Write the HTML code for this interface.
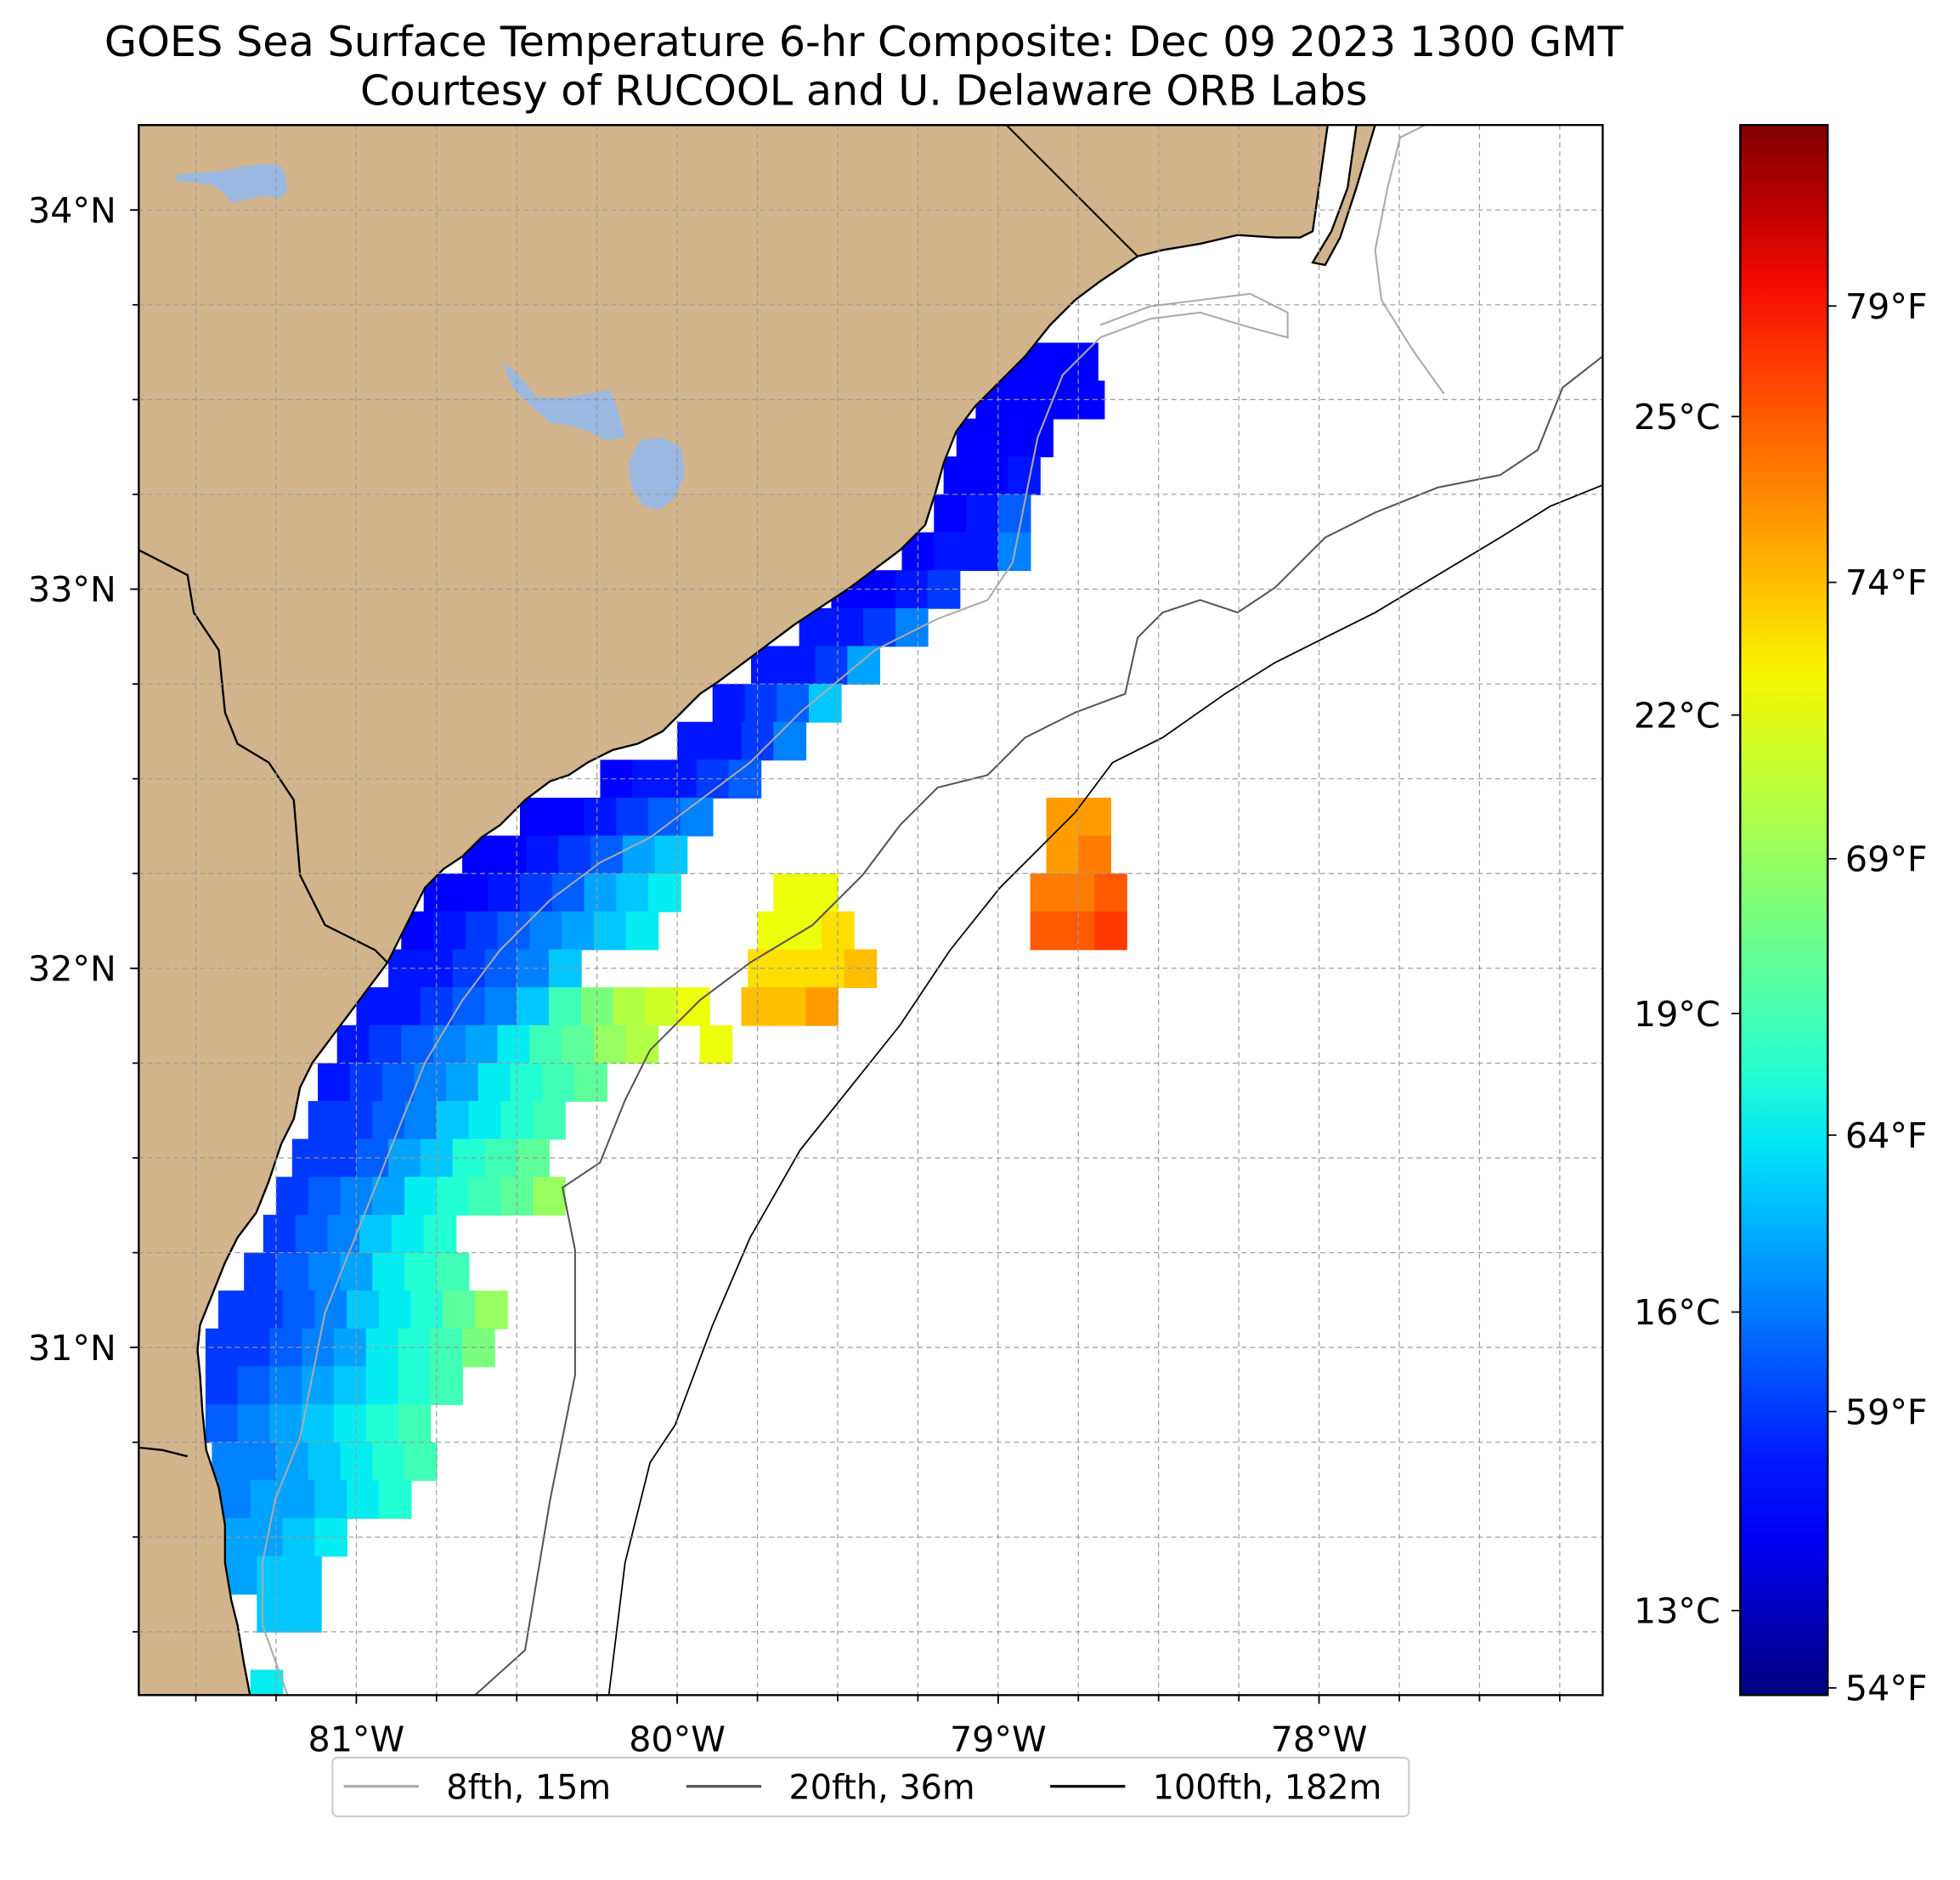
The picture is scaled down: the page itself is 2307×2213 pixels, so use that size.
<!DOCTYPE html>
<html><head><meta charset="utf-8"><style>
html,body{margin:0;padding:0;background:#fff;}
svg{display:block;font-family:"DejaVu Sans","Liberation Sans",sans-serif;}
</style></head><body>
<svg id="fig" width="2307" height="2213" viewBox="0 0 1567.8 1503.9" preserveAspectRatio="none" xmlns="http://www.w3.org/2000/svg">
<rect x="0" y="0" width="1567.8" height="1503.9" fill="#fff"/>
<text x="691" y="45" font-size="33.5" text-anchor="middle">GOES Sea Surface Temperature 6-hr Composite: Dec 09 2023 1300 GMT</text>
<text x="691" y="84" font-size="33.5" text-anchor="middle">Courtesy of RUCOOL and U. Delaware ORB Labs</text>
<defs>
<clipPath id="mapclip"><rect x="111" y="100" width="1171" height="1256"/></clipPath>
<linearGradient id="jetgrad" x1="0" y1="1" x2="0" y2="0"></linearGradient>
</defs>
<g id="map" clip-path="url(#mapclip)">
<rect x="111" y="100" width="1171" height="1256" fill="#fff"/>
<g id="sst"></g>
<polygon fill="#d2b48c" stroke="#000" stroke-width="1.6" points="1062,100 1055,150 1050,185 1040,190 1020,190 990,188 960,195 930,200 910,205 880,225 860,240 840,260 820,285 800,305 780,325 765,345 755,370 748,395 740,420 720,440 700,455 680,470 665,480 650,490 635,500 615,515 595,530 575,545 560,555 545,570 530,585 510,595 490,600 470,610 455,620 440,625 420,640 400,660 385,670 370,685 355,695 340,710 330,730 320,750 310,770 295,790 280,810 265,830 250,850 240,870 235,895 225,915 215,945 205,970 190,990 180,1010 170,1035 160,1060 158,1080 160,1100 162,1130 165,1160 175,1190 180,1220 180,1250 185,1280 190,1300 195,1330 200,1356 105,1356 105,100"/>
<polygon fill="#d2b48c" stroke="#000" stroke-width="1.6" points="1085,100 1100,100 1085,150 1072,190 1060,212 1050,210 1065,185 1078,150"/>
<polygon fill="#9ab8e0" points="140,140 160,138 175,137 185,135 195,133 205,132 215,131 225,133 228,140 230,152 225,158 210,157 195,160 185,162 180,155 170,148 155,146 142,145"/>
<polygon fill="#9ab8e0" points="402,290 415,300 430,318 450,318 470,315 488,312 495,330 500,350 485,352 470,345 455,340 440,338 425,325 410,310"/>
<polygon fill="#9ab8e0" points="512,352 530,350 545,358 548,380 540,398 528,408 515,405 505,390 503,370"/>
<polyline fill="none" stroke="#000" stroke-width="1.6" points="111,440 150,460 155,490 175,520 180,570 190,595 215,610 235,640 240,700 260,740 280,750 300,760 310,770"/>
<polyline fill="none" stroke="#000" stroke-width="1.6" points="111,1158 130,1160 150,1165"/>
<polyline fill="none" stroke="#000" stroke-width="1.4" points="805,100 910,205"/>
<polyline fill="none" stroke="#aaa" stroke-width="1.4" points="880,260 920,245 960,240 1000,235 1030,250 1030,270 1000,262 960,250 920,255 880,270 850,300 830,350 820,400 810,450 790,480 750,495 700,520 640,570 600,610 560,640 520,670 480,690 440,720 400,760 370,800 340,850 320,900 300,950 280,1000 260,1050 250,1100 240,1150 220,1200 210,1250 210,1300 230,1356"/>
<polyline fill="none" stroke="#aaa" stroke-width="1.4" points="1140,100 1120,110 1110,150 1100,200 1105,240 1130,280 1155,315"/>
<polyline fill="none" stroke="#555" stroke-width="1.4" points="380,1356 420,1320 430,1260 440,1200 460,1100 460,1000 450,950 480,930 500,880 520,840 560,800 600,770 650,740 690,700 720,660 750,630 790,620 820,590 860,570 900,555 910,510 930,490 960,480 990,490 1020,470 1060,430 1100,410 1150,390 1200,380 1230,360 1250,310 1282,285"/>
<polyline fill="none" stroke="#000" stroke-width="1.2" points="487,1356 500,1250 520,1170 540,1140 570,1060 600,990 640,920 680,870 720,820 760,760 800,710 860,650 890,610 930,590 980,555 1020,530 1060,510 1100,490 1150,460 1200,430 1240,405 1282,388"/>
<g id="grid"></g>
</g>
<rect x="111" y="100" width="1171" height="1256" fill="none" stroke="#000" stroke-width="1.6"/>
<g id="axes"></g>
<rect id="cbar" x="1392" y="100" width="70" height="1256" fill="url(#jetgrad)" stroke="#000" stroke-width="1.6"/>
<g id="cbaxes"></g>
<g>
<rect x="266" y="1406" width="861" height="47" rx="4" fill="#fff" stroke="#ccc" stroke-width="1.4"/>
<line x1="275" y1="1429" x2="335" y2="1429" stroke="#aaa" stroke-width="2.2"/>
<text x="357" y="1439" font-size="27">8fth, 15m</text>
<line x1="549" y1="1429" x2="609" y2="1429" stroke="#555" stroke-width="2.2"/>
<text x="631" y="1439" font-size="27">20fth, 36m</text>
<line x1="840" y1="1429" x2="900" y2="1429" stroke="#000" stroke-width="2.2"/>
<text x="922" y="1439" font-size="27">100fth, 182m</text>
</g>
</svg>
<script>
// ---- data ----
const lonTicks = [81, 80, 79, 78];
const lonTickLabels = ["81°W", "80°W", "79°W", "78°W"];
const latTicks = [34, 33, 32, 31];
const latTickLabels = ["34°N", "33°N", "32°N", "31°N"];
const cTicks = [13, 16, 19, 22, 25];
const cTickLabels = ["13°C", "16°C", "19°C", "22°C", "25°C"];
const fTicks = [54, 59, 64, 69, 74, 79];
const fTickLabels = ["54°F", "59°F", "64°F", "69°F", "74°F", "79°F"];
const cbarMinC = 12.15;
const cbarMaxC = 27.93;
// SST rows: latitude center, western edge (deg W), temps (°F) in 0.1° lon steps eastward
const sstLats = [33.6,33.5,33.4,33.3,33.2,33.1,33.0,32.9,32.8,32.7,32.6,32.5,32.4,32.3,32.2,32.1,32.0,31.9,31.8,31.7,31.6,31.5,31.4,31.3,31.2,31.1,31.0,30.9,30.8,30.7,30.6,30.5,30.4,30.3,30.1,
  32.2,32.1,32.0,31.9,31.8, 32.4,32.3,32.2,32.1];
const sstWest = [78.99,79.07,79.13,79.17,79.2,79.3,79.52,79.62,79.77,79.89,80.0,80.24,80.49,80.67,80.79,80.86,80.9,81.0,81.06,81.12,81.15,81.2,81.25,81.29,81.35,81.43,81.47,81.47,81.47,81.45,81.43,81.43,81.41,81.31,81.33,
  79.7,79.75,79.78,79.8,79.93, 78.85,78.85,78.9,78.9];
const sstTemps = [
 [57,57,57],[57,57,57,57],[57,57,57],[57,57,58],[57,58,60],[57,58,58,61],[57,57,58,59],[58,58,59,61],[58,58,59,62],[58,59,60,63],[58,58,59,61],
 [57,58,58,59,60],[57,57,58,59,60,61],[57,57,58,59,60,62,63],[57,57,58,59,60,62,63,64],[57,58,59,60,61,62,63,64],[58,58,59,60,61,63],
 [58,58,59,60,61,63,66,68,70,71,72],[58,59,60,61,62,64,66,67,69,70],[58,59,60,61,62,64,65,66,67],[59,59,60,61,63,64,65,66],[59,59,60,62,63,65,66,67],
 [59,60,61,62,64,65,66,67,69],[59,60,61,63,64,65],[59,60,61,62,64,65,66],[59,59,60,61,63,64,65,67,69],[59,59,60,61,62,64,65,66,68],
 [59,60,61,62,63,64,65,66],[60,61,62,63,64,65,66],[61,61,62,63,64,65,66],[61,62,62,63,64,65],[62,62,63,64],[62,63,63],[63,63],[64],
 [72,72],[72,72,73],[73,73,73,74],[74,74,75],[72],
 [75,75],[75,76],[76,76,77],[77,77,78]
];
// ---- axis functions ----
function xLon(w){ return 285 + (81 - w) * 256.7; }
function yLat(l){ return 168 + (34 - l) * 303.3; }
function yC(c){ return 1356 - (c - cbarMinC) / (cbarMaxC - cbarMinC) * 1256; }
function fToC(f){ return (f - 32) * 5 / 9; }
function seg(p, t){ for(let i=1;i<p.length;i++){ if(t<=p[i][0]){ const a=p[i-1],b=p[i]; return a[1]+(b[1]-a[1])*(t-a[0])/(b[0]-a[0]); } } return p[p.length-1][1]; }
function jet(t){ t=Math.max(0,Math.min(1,t));
  const r=seg([[0,0],[0.35,0],[0.66,1],[0.89,1],[1,0.5]],t);
  const g=seg([[0,0],[0.125,0],[0.375,1],[0.64,1],[0.91,0],[1,0]],t);
  const b=seg([[0,0.5],[0.11,1],[0.34,1],[0.65,0],[1,0]],t);
  return `rgb(${Math.round(r*255)},${Math.round(g*255)},${Math.round(b*255)})`; }
const NS="http://www.w3.org/2000/svg";
function mk(tag, attrs, parent){ const e=document.createElementNS(NS,tag); for(const k in attrs) e.setAttribute(k, attrs[k]); parent.appendChild(e); return e; }
const grad=document.getElementById('jetgrad');
for(let i=0;i<=20;i++){ mk('stop',{offset:(i/20),'stop-color':jet(i/20)},grad); }
const sstG=document.getElementById('sst');
sstLats.forEach((lat,ri)=>{
  const y0=yLat(lat+0.05), y1=yLat(lat-0.05);
  sstTemps[ri].forEach((tf,ci)=>{
    const w=sstWest[ri]-ci*0.1;
    const x0=xLon(w), x1=xLon(w-0.1);
    const t=(fToC(tf)-cbarMinC)/(cbarMaxC-cbarMinC);
    const r=mk('rect',{x:x0,y:y0,width:x1-x0+0.6,height:y1-y0+0.6,fill:jet(t)},sstG);
    
    
  });
});
const gridG=document.getElementById('grid');
const ax=document.getElementById('axes');
for(let w=81.75; w>=77; w-=0.25){ const x=xLon(w); if(x<111||x>1282) continue;
  const l=mk('line',{x1:x,y1:100,x2:x,y2:1356,stroke:'#999','stroke-width':0.8,'stroke-dasharray':'4,3'},gridG);
  
  
  const t=mk('line',{x1:x,y1:1356,x2:x,y2:1361,stroke:'#000','stroke-width':1.2},ax);
  
   }
for(let la=34.25; la>=29.5; la-=0.25){ const y=yLat(la); if(y<100||y>1356) continue;
  const l=mk('line',{x1:111,y1:y,x2:1282,y2:y,stroke:'#999','stroke-width':0.8,'stroke-dasharray':'4,3'},gridG);
  
  
  const t=mk('line',{x1:106,y1:y,x2:111,y2:y,stroke:'#000','stroke-width':1.2},ax);
  
   }
lonTicks.forEach((w,i)=>{ const x=xLon(w);
  mk('line',{x1:x,y1:1356,x2:x,y2:1363,stroke:'#000','stroke-width':1.2},ax);
  const t=mk('text',{x:x,y:1401,'font-size':28,'text-anchor':'middle'},ax); t.textContent=lonTickLabels[i];
  
   });
latTicks.forEach((l,i)=>{ const y=yLat(l);
  mk('line',{x1:104,y1:y,x2:111,y2:y,stroke:'#000','stroke-width':1.2},ax);
  const t=mk('text',{x:93,y:y+10,'font-size':28,'text-anchor':'end'},ax); t.textContent=latTickLabels[i];
  
   });
const cb=document.getElementById('cbaxes');
cTicks.forEach((c,i)=>{ const y=yC(c);
  mk('line',{x1:1385,y1:y,x2:1392,y2:y,stroke:'#000','stroke-width':1.2},cb);
  const t=mk('text',{x:1376,y:y+10,'font-size':28,'text-anchor':'end'},cb); t.textContent=cTickLabels[i];
  
   });
fTicks.forEach((f,i)=>{ const y=yC(fToC(f));
  mk('line',{x1:1462,y1:y,x2:1469,y2:y,stroke:'#000','stroke-width':1.2},cb);
  const t=mk('text',{x:1476,y:y+10,'font-size':28},cb); t.textContent=fTickLabels[i];
  
   });
</script>
</body></html>
